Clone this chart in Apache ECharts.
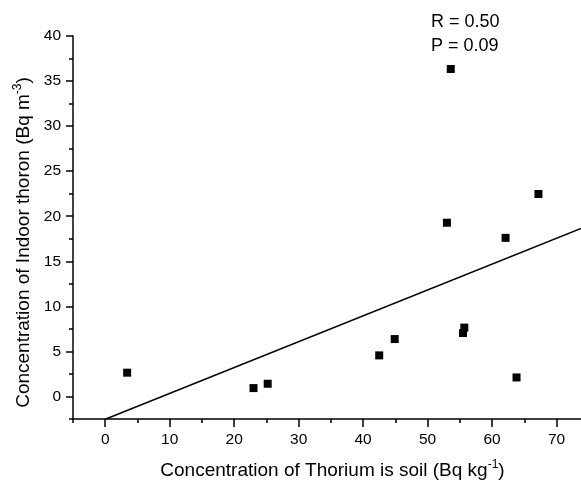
<!DOCTYPE html>
<html><head><meta charset="utf-8">
<script src="https://cdn.jsdelivr.net/npm/echarts@6/dist/echarts.min.js"></script>
<style>html,body{margin:0;padding:0;background:#fff}#c{width:581px;height:485px}</style>
</head><body><div id="c"></div>
<script>
const thoriumSoil = [3.4, 23.0, 25.2, 42.5, 44.9, 55.5, 55.7, 63.8, 62.1, 53.0, 67.2, 53.6];
const indoorThoron = [2.64, 0.93, 1.41, 4.56, 6.37, 7.04, 7.64, 2.11, 17.6, 19.28, 22.47, 36.34];
const fitX = [0.1, 73.8];
const fitY = [-2.5, 18.65];
const xMajorTicks = [0, 10, 20, 30, 40, 50, 60, 70];
const xMinorTicks = [-5, 5, 15, 25, 35, 45, 55, 65];
const yMajorTicks = [0, 5, 10, 15, 20, 25, 30, 35, 40];
const yMinorTicks = [-2.5, 2.5, 7.5, 12.5, 17.5, 22.5, 27.5, 32.5, 37.5];
const statsText = ['R = 0.50', 'P = 0.09'];

const FONT = 'Liberation Sans, Arial, sans-serif';
const INK = '#000';
const chart = echarts.init(document.getElementById('c'), null, {renderer: 'canvas'});
const nameRich = {
  n: {fontSize: 19, fontFamily: FONT, color: INK},
  s: {fontSize: 12, fontFamily: FONT, color: INK, padding: [0, 0, 11, 0]}
};
const baseX = {type: 'value', min: -5, max: 73.8, gridIndex: 0, position: 'bottom', splitLine: {show: false}};
const baseY = {type: 'value', min: -2.5, max: 40, gridIndex: 0, position: 'left', splitLine: {show: false}};
chart.setOption({
  animation: false,
  backgroundColor: '#fff',
  title: {
    text: statsText.join('\n'), left: 431, top: 10, padding: 0,
    textStyle: {fontSize: 18, fontWeight: 'normal', fontFamily: FONT, color: INK, lineHeight: 24}
  },
  grid: {left: 73, right: 0, top: 36, bottom: 66, containLabel: false},
  xAxis: [
    Object.assign({}, baseX, {
      axisLine: {show: true, onZero: false, lineStyle: {color: '#000', width: 1.5}},
      axisTick: {show: true, inside: false, length: 8, customValues: xMajorTicks, lineStyle: {color: '#000', width: 1.5}},
      axisLabel: {show: true, customValues: xMajorTicks, margin: 13, fontSize: 15.5, fontFamily: FONT, color: INK},
      name: '{n|Concentration of Thorium is soil (Bq kg}{s|-1}{n|)}',
      nameLocation: 'middle', nameGap: 40,
      nameTextStyle: {rich: nameRich, padding: [0, 0, 0, 11]}
    }),
    Object.assign({}, baseX, {
      axisLine: {show: false, onZero: false},
      axisTick: {show: true, inside: false, length: 4, customValues: xMinorTicks, lineStyle: {color: '#000', width: 1.5}},
      axisLabel: {show: false}
    })
  ],
  yAxis: [
    Object.assign({}, baseY, {
      axisLine: {show: true, onZero: false, lineStyle: {color: '#000', width: 1.5}},
      axisTick: {show: true, inside: false, length: 7, customValues: yMajorTicks, lineStyle: {color: '#000', width: 1.5}},
      axisLabel: {show: true, customValues: yMajorTicks, margin: 12, fontSize: 15.5, fontFamily: FONT, color: INK},
      name: '{n|Concentration of Indoor thoron (Bq m}{s|-3}{n|)}',
      nameLocation: 'middle', nameGap: 36, nameRotate: 90,
      nameTextStyle: {rich: nameRich, padding: [0, 30, 0, 0]}
    }),
    Object.assign({}, baseY, {
      axisLine: {show: false, onZero: false},
      axisTick: {show: true, inside: false, length: 4, customValues: yMinorTicks, lineStyle: {color: '#000', width: 1.5}},
      axisLabel: {show: false}
    })
  ],
  series: [
    {
      type: 'scatter', xAxisIndex: 0, yAxisIndex: 0,
      symbol: 'rect', symbolSize: 8,
      itemStyle: {color: '#000', opacity: 1},
      data: thoriumSoil.map((x, i) => [x, indoorThoron[i]])
    },
    {
      type: 'line', xAxisIndex: 0, yAxisIndex: 0,
      symbol: 'none', lineStyle: {color: '#000', width: 1.5},
      data: fitX.map((x, i) => [x, fitY[i]])
    }
  ]
});
</script></body></html>
